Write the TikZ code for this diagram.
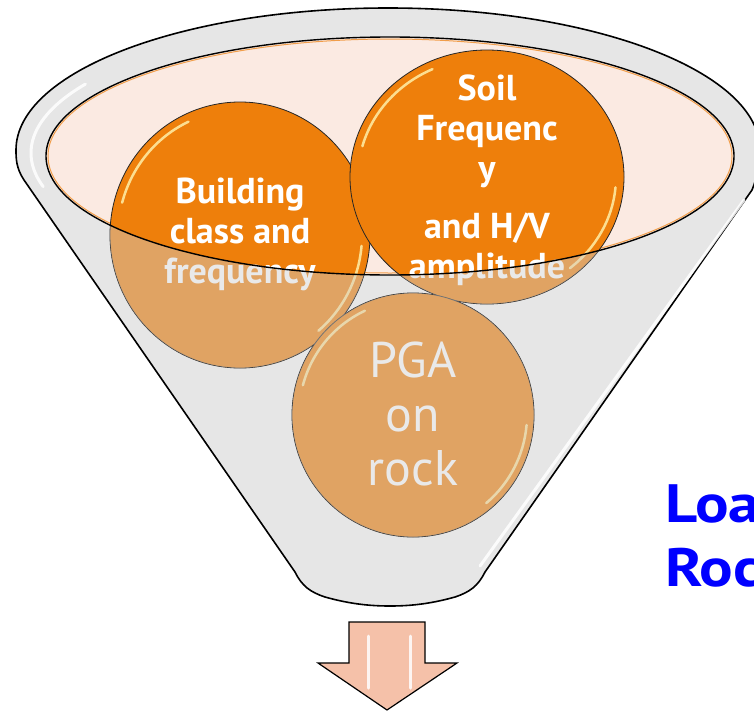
\documentclass[tikz,border=0pt]{standalone}
\usepackage{fontspec}
\newfontfamily\ptsans{PT Sans}
\newfontfamily\ptsanswide[FakeStretch=1.16]{PT Sans}

\definecolor{funnelgrey}{HTML}{E6E6E6}
\definecolor{rimpink}{HTML}{FBEAE2}
\definecolor{ballorange}{HTML}{EE7F0B}
\definecolor{glassgrey}{HTML}{D0D0D0}
\definecolor{glossyellow}{HTML}{FFEFA8}
\definecolor{arrowpink}{HTML}{F5C1A9}
\definecolor{loadblue}{HTML}{0000FF}

\tikzset{
  funnel/.style={fill=funnelgrey, draw=black, line width=1.6pt, line join=round},
  rim/.style={draw=black, line width=1.4pt},
  ball/.style={fill=ballorange, draw=black!85, line width=0.8pt},
  glass/.style={fill=glassgrey, fill opacity=0.45},
  gloss/.style={draw=glossyellow, line width=2.5pt, line cap=round, opacity=0.85},
  shine/.style={draw=white, line width=3pt, line cap=round, opacity=0.85},
  balltext/.style={text=white, align=center, inner sep=0pt,
    font=\ptsans\bfseries\fontsize{36}{40}\selectfont},
}

% glossy edge on a ball: centre, inset radii
\newcommand\ballgloss[4]{%
  \draw[gloss] (#1,#2) ++(195:#3 and #4) arc[start angle=195, end angle=245, x radius=#3, y radius=#4];
  \draw[gloss] (#1,#2) ++(5:#3 and #4) arc[start angle=5, end angle=50, x radius=#3, y radius=#4];}

\begin{document}
\begin{tikzpicture}[x=1pt, y=-1pt]
\useasboundingbox (0,0) rectangle (754,712);

% funnel body with the top rim
\path[funnel] (295,572) -- (24,180) .. controls (16,168) and (16,158) .. (16,150)
  arc[start angle=180, end angle=360, x radius=372, y radius=142]
  .. controls (760,158) and (758,176) .. (752,190) -- (485,572)
  .. controls (478,586) and (470,592) .. (455,597)
  .. controls (430,604) and (410,606) .. (390,606)
  .. controls (370,606) and (350,604) .. (325,597)
  .. controls (310,592) and (302,586) .. (295,572) -- cycle;
\draw[shine] (389,153) ++(165:358 and 130) arc[start angle=165, end angle=212, x radius=358, y radius=130];
\draw[shine] (744,200) -- (480,566);

% opening of the funnel
\fill[rimpink] (390,156) ellipse [x radius=344, y radius=119];
\draw[ballorange, line width=1pt, opacity=0.7] (390,156) ellipse [x radius=342, y radius=117];

% the three balls (base = last line)
\filldraw[ball] (240,235) ellipse [x radius=130, y radius=133];
\ballgloss{240}{235}{122}{125}
\node[balltext, anchor=base] (building) at (240,283) {Building\\class and\\frequency};

\filldraw[ball] (487,177) ellipse [x radius=137, y radius=127];
\ballgloss{487}{177}{129}{119}
\node[balltext, anchor=base] (soil) at (487,278) {Soil\\Frequenc\\y\\[18pt]and H/V\\amplitude};

\filldraw[ball] (413,415) ellipse [x radius=121, y radius=122];
\ballgloss{413}{415}{114}{115}
\node[balltext, anchor=base, font=\ptsans\fontsize{50}{54}\selectfont] (pga) at (413,485) {PGA\\on\\rock};

% the glass in front of the balls
\begin{scope}
  \clip (46,156) arc[start angle=180, end angle=0, x radius=344, y radius=119]
    -- (770,156) -- (770,720) -- (-10,720) -- (-10,156) -- cycle;
  \fill[glass] (240,235) ellipse [x radius=130, y radius=133]
    (487,177) ellipse [x radius=137, y radius=127]
    (413,415) ellipse [x radius=121, y radius=122];
\end{scope}
\draw[rim] (390,156) ellipse [x radius=344, y radius=119];

% outlet arrow
\filldraw[fill=arrowpink, draw=black, line width=1.2pt, line join=miter]
  (349,622) -- (425,622) -- (425,663) -- (457,663) -- (387,710)
  -- (318,663) -- (349,663) -- cycle;
\draw[shine] (368,636) -- (368,688);
\draw[shine] (410,636) -- (410,688);

\node[anchor=base west, inner sep=0pt, align=left, text=loadblue,
  font=\ptsanswide\bfseries\fontsize{54}{64}\selectfont] (load) at (665,586) {Load\\Rock};
\end{tikzpicture}
\end{document}
